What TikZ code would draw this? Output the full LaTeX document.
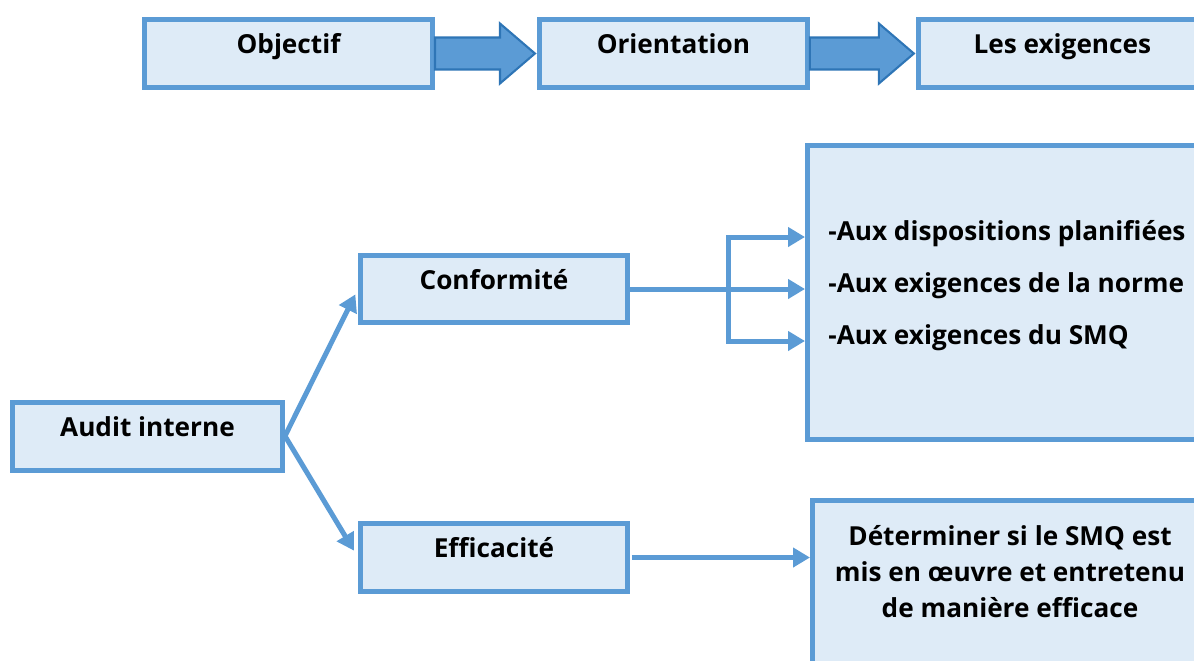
\documentclass[tikz,border=0pt]{standalone}
\usepackage{fontspec}
\setmainfont{Open Sans}
\usetikzlibrary{arrows.meta,positioning,calc}
\definecolor{smqblue}{RGB}{91,155,213}
\definecolor{smqfill}{RGB}{222,235,247}
\definecolor{smqdark}{RGB}{46,117,182}
\tikzset{
  box/.style={draw=smqblue, fill=smqfill, line width=0.1cm, inner sep=0pt, text height=0.68cm, text depth=0.68cm, font=\bfseries\fontsize{14.9}{20.5}\selectfont},
  bigbox/.style={draw=smqblue, fill=smqfill, line width=0.1cm, inner sep=0pt, anchor=north west},
  txt/.style={inner sep=0pt, font=\bfseries\fontsize{14.9}{20.5}\selectfont},
  conn/.style={draw=smqblue, line width=0.1cm},
  arrow/.style={conn, -{Triangle[length=0.34cm,width=0.38cm]}},
  blockarrow/.style={fill=smqblue, draw=smqdark, line width=1.2pt, line join=miter}
}
\begin{document}
\begin{tikzpicture}[x=0.02cm, y=-0.02cm]
\useasboundingbox (0,0) rectangle (1194,660);
\clip (0,0) rectangle (1194,660);
% Top row
\node[box, minimum width=5.76cm] (obj) at (288.5,53.5) {Objectif};
\node[box, minimum width=5.36cm, right=2.04cm of obj] (ori) {Orientation};
\node[box, minimum width=5.76cm, right=2.12cm of ori] (exi) {Les exigences};
\foreach \a/\b in {obj/ori, ori/exi}
  \path[blockarrow] ($(\a.east)+(0,-16)$) -- ($(\b.west)+(-37,-16)$) -- ($(\b.west)+(-37,-30)$) -- ($(\b.west)+(-2,0)$) -- ($(\b.west)+(-37,30)$) -- ($(\b.west)+(-37,16)$) -- ($(\a.east)+(0,16)$) -- cycle;
% Audit tree
\node[box, minimum width=5.4cm] (audit) at (147.5,436) {Audit interne};
\node[box, minimum width=5.34cm] (conf) at (494,289) {Conformité};
\node[box, minimum width=5.34cm] (eff) at (494,557.5) {Efficacité};
\node[bigbox, minimum width=9cm, minimum height=5.88cm] (req) at (805,143) {};
\node[bigbox, minimum width=8cm, minimum height=4cm] (smq) at (810,498) {};
\foreach \t [count=\i] in {-Aux dispositions planifiées, -Aux exigences de la norme, -Aux exigences du SMQ}
  \node[txt, anchor=base west] (l\i) at (828,188+52*\i) {\t};
\node[txt, align=center, anchor=north] (smqtxt) at (1010,525) {Déterminer si le SMQ est\\mis en œuvre et entretenu\\de manière efficace};
% Connectors
\draw[arrow, shorten >=0.12cm] (audit.east) -- (conf.west);
\draw[arrow, shorten >=0.16cm] (audit.east) -- (eff.west);
\foreach \y [count=\n] in {237,289,341}
  \coordinate (br\n) at (728,\y);
\draw[conn] (conf.east) -- (br2);
\draw[conn, line cap=rect] (br1) -- (br3);
\foreach \n in {1,2,3}
  \draw[arrow] (br\n) -- (br\n -| req.west);
\draw[arrow] ([xshift=0.04cm]eff.east) -- (eff.east -| smq.west);
\end{tikzpicture}
\end{document}
